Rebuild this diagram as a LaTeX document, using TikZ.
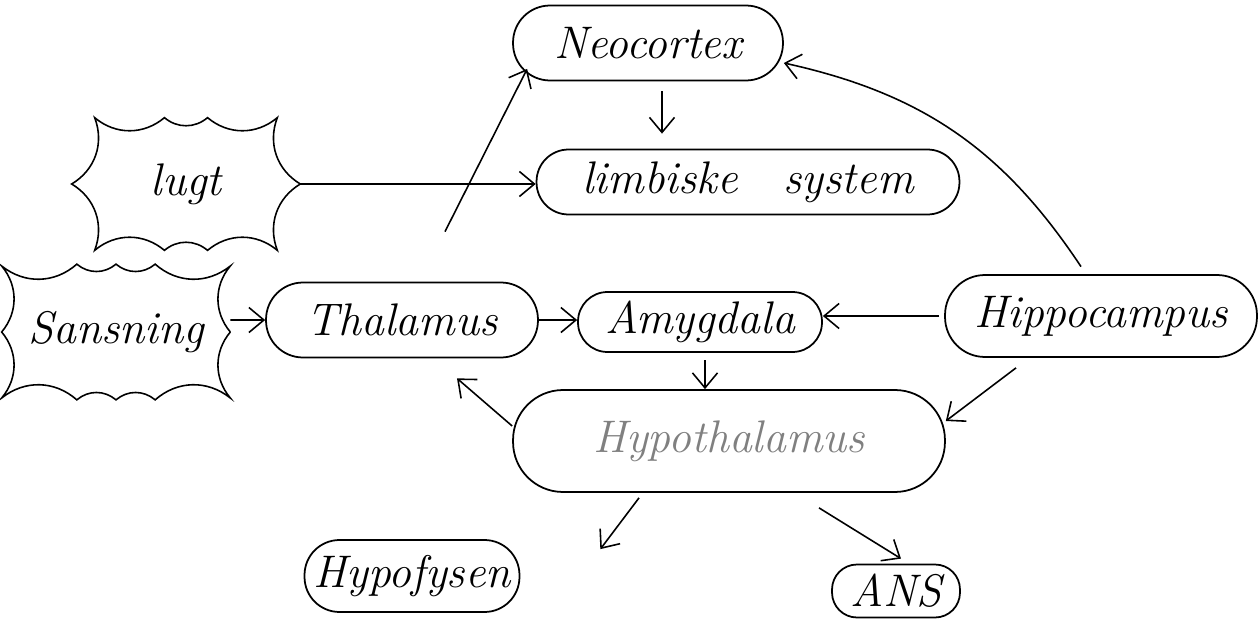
\documentclass[tikz,border=0pt]{standalone}
\usetikzlibrary{arrows.meta}
\tikzset{
  organ/.style = {draw, line width=1pt, rounded corners=.6cm, inner sep=0pt,
    font=\fontsize{26}{30}\selectfont\itshape},
  burst/.style = {inner sep=0pt, font=\fontsize{26}{30}\selectfont\itshape},
  pil/.style = {-{Straight Barb[length=3mm,width=5mm]}, line width=.9pt},
}
\begin{document}
\begin{tikzpicture}[x = .02cm, y = -.02cm]
  \useasboundingbox (0,0) rectangle (1259,632);
  % boxes
  \node [organ, minimum width=5.4cm, minimum height=1.5cm, rounded corners=.74cm] (neocortex) at (648,43) {Neocortex};
  \node [organ, minimum width=8.46cm, minimum height=1.3cm, rounded corners=.64cm] (limbiske) at (748,182) {limbiske\quad system};
  \node [organ, minimum width=5.44cm, minimum height=1.5cm, rounded corners=.74cm] (thalamus) at (402,320) {Thalamus};
  \node [organ, minimum width=4.88cm, minimum height=1.2cm, rounded corners=.59cm] (amygdala) at (700,322) {Amygdala};
  \node [organ, minimum width=6.24cm, minimum height=1.64cm, rounded corners=.8cm] (hippocampus) at (1101,316) {Hippocampus};
  \node [organ, minimum width=8.64cm, minimum height=2.04cm, rounded corners=1cm, text=gray] (hypothalamus) at (729,441) {Hypothalamus};
  \node [organ, minimum width=4.3cm, minimum height=1.44cm, rounded corners=.7cm] (hypofysen) at (412,576) {Hypofysen};
  \node [organ, minimum width=2.56cm, minimum height=1.06cm, rounded corners=.5cm] (ans) at (896,591) {ANS};
  % bursts
  \node [burst, minimum width=4.56cm, minimum height=2.64cm] (lugt) at (186,184) {lugt};
  \node [burst, minimum width=4.56cm, minimum height=2.7cm] (sansning) at (116,332) {Sansning};
  \draw [line width=.9pt] (lugt.0) foreach \a in {36,72,...,360} { to [bend left=40] (lugt.\a) };
  \draw [line width=.9pt] (sansning.0) foreach \a in {30,60,...,360} { to [bend left=40] (sansning.\a) };
  % arrows
  \draw [pil] (lugt.east) -- (lugt.east -| limbiske.west);
  \draw [pil] ([xshift=.86cm, yshift=1cm]thalamus.north) -- ([xshift=.3cm, yshift=.25cm]neocortex.south west);
  \draw [pil, shorten <=.2cm, shorten >=.3cm] ([xshift=.28cm]neocortex.south) -- ([xshift=.28cm]neocortex.south |- limbiske.north);
  \draw [pil] ([xshift=-.4cm, yshift=.15cm]hippocampus.north) to [bend right=22] ([yshift=-.4cm]neocortex.east);
  \draw [pil] ([yshift=.24cm]sansning.east) -- (thalamus.west);
  \draw [pil] (thalamus.east) -- (thalamus.east -| amygdala.west);
  \draw [pil, shorten <=.1cm] (hippocampus.west) -- (hippocampus.west -| amygdala.east);
  \draw [pil, shorten <=.15cm] ([xshift=.1cm]amygdala.south) -- ([xshift=.1cm]amygdala.south |- hypothalamus.north);
  \draw [pil] ([xshift=-1.7cm, yshift=-.2cm]hippocampus.south) -- ([yshift=.4cm]hypothalamus.east);
  \draw [pil] ([yshift=.3cm]hypothalamus.west) -- ([xshift=1.1cm, yshift=-.4cm]thalamus.south);
  \draw [pil] ([xshift=-1.8cm, yshift=-.1cm]hypothalamus.south) -- ([xshift=1.6cm, yshift=-.2cm]hypofysen.north east);
  \draw [pil] ([xshift=1.8cm, yshift=-.3cm]hypothalamus.south) -- ([xshift=.1cm, yshift=.1cm]ans.north);
\end{tikzpicture}
\end{document}
